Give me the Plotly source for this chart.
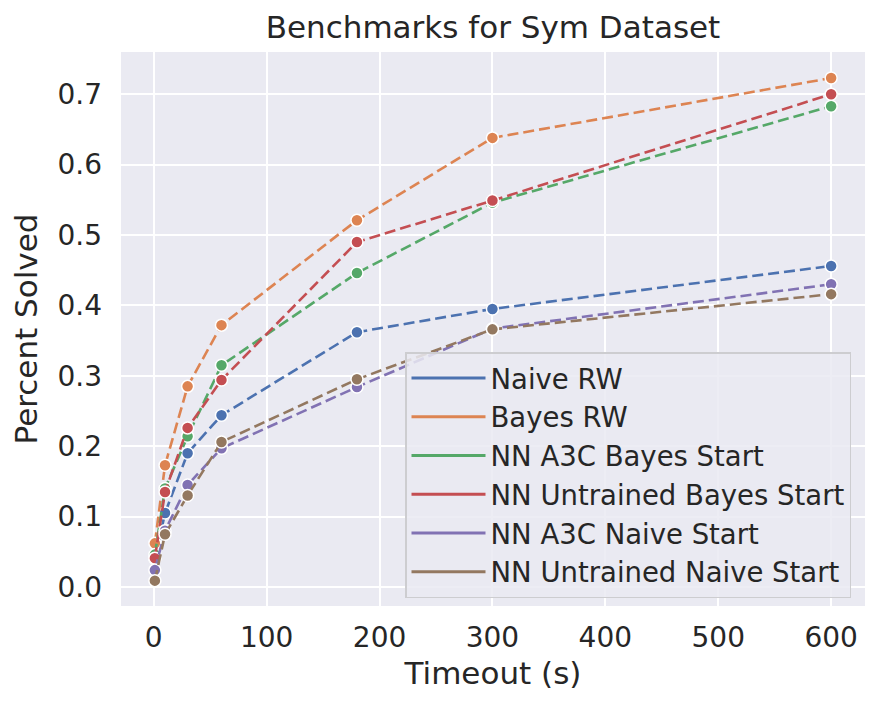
import plotly.graph_objects as go

timeouts = [1, 10, 30, 60, 180, 300, 600]
series_names = ["Naive RW", "Bayes RW", "NN A3C Bayes Start", "NN Untrained Bayes Start",
                "NN A3C Naive Start", "NN Untrained Naive Start"]
naive_rw = [0.040, 0.105, 0.190, 0.244, 0.362, 0.395, 0.456]
bayes_rw = [0.062, 0.173, 0.285, 0.372, 0.521, 0.638, 0.723]
a3c_bayes = [0.046, 0.140, 0.214, 0.315, 0.446, 0.546, 0.683]
untrained_bayes = [0.041, 0.135, 0.226, 0.294, 0.490, 0.549, 0.700]
a3c_naive = [0.024, 0.080, 0.145, 0.197, 0.284, 0.367, 0.430]
untrained_naive = [0.009, 0.075, 0.130, 0.206, 0.295, 0.366, 0.416]
colors = ["#4C72B0", "#DD8452", "#55A868", "#C44E52", "#8172B3", "#937860"]
x_ticks = [0, 100, 200, 300, 400, 500, 600]
y_ticks = [0.0, 0.1, 0.2, 0.3, 0.4, 0.5, 0.6, 0.7]

series = [naive_rw, bayes_rw, a3c_bayes, untrained_bayes, a3c_naive, untrained_naive]

FONT = "DejaVu Sans"

fig = go.Figure()
for name, vals, c in zip(series_names, series, colors):
    fig.add_trace(go.Scatter(
        x=timeouts, y=vals, mode="lines+markers", name=name, showlegend=False,
        line=dict(color=c, width=2.6, dash="11px,5px"),
        marker=dict(size=12, color=c, line=dict(color="white", width=1.5)),
    ))
for name, c in zip(series_names, colors):
    fig.add_trace(go.Scatter(
        x=[None], y=[None], mode="lines", name=name,
        line=dict(color=c, width=3),
    ))

# page has an 8px body margin; figure spans page x 8..880, y 8..709
fig.update_layout(
    width=872, height=701,
    paper_bgcolor="white", plot_bgcolor="#EAEAF2",
    margin=dict(l=113, r=15, t=44, b=103),
    font=dict(family=FONT, color="#262626", size=28),
    title=dict(text="Benchmarks for Sym Dataset", x=0.5, xref="paper", xanchor="center",
               y=1 - 19 / 701, yanchor="middle", font=dict(size=31)),
    xaxis=dict(range=[-29, 630], tickvals=x_ticks,
               showgrid=True, gridcolor="white", gridwidth=2, zeroline=False,
               showline=False, ticks="", tickfont=dict(size=28),
               ticklabelstandoff=12,
               title=dict(text="Timeout (s)", font=dict(size=31), standoff=9)),
    yaxis=dict(range=[-0.027, 0.76], tickvals=y_ticks,
               tickformat=".1f",
               showgrid=True, gridcolor="white", gridwidth=2, zeroline=False,
               showline=False, ticks="", tickfont=dict(size=28),
               ticklabelstandoff=18,
               title=dict(text="Percent Solved", font=dict(size=31), standoff=12)),
    legend=dict(x=(851 - 121) / 744, y=(606 - 598) / 554, xanchor="right", yanchor="bottom",
                bgcolor="rgba(234,234,242,0.85)", bordercolor="#CDCDD0", borderwidth=1.5,
                font=dict(size=27.5), tracegroupgap=0, itemwidth=74),
)

fig.write_html("out.html")
